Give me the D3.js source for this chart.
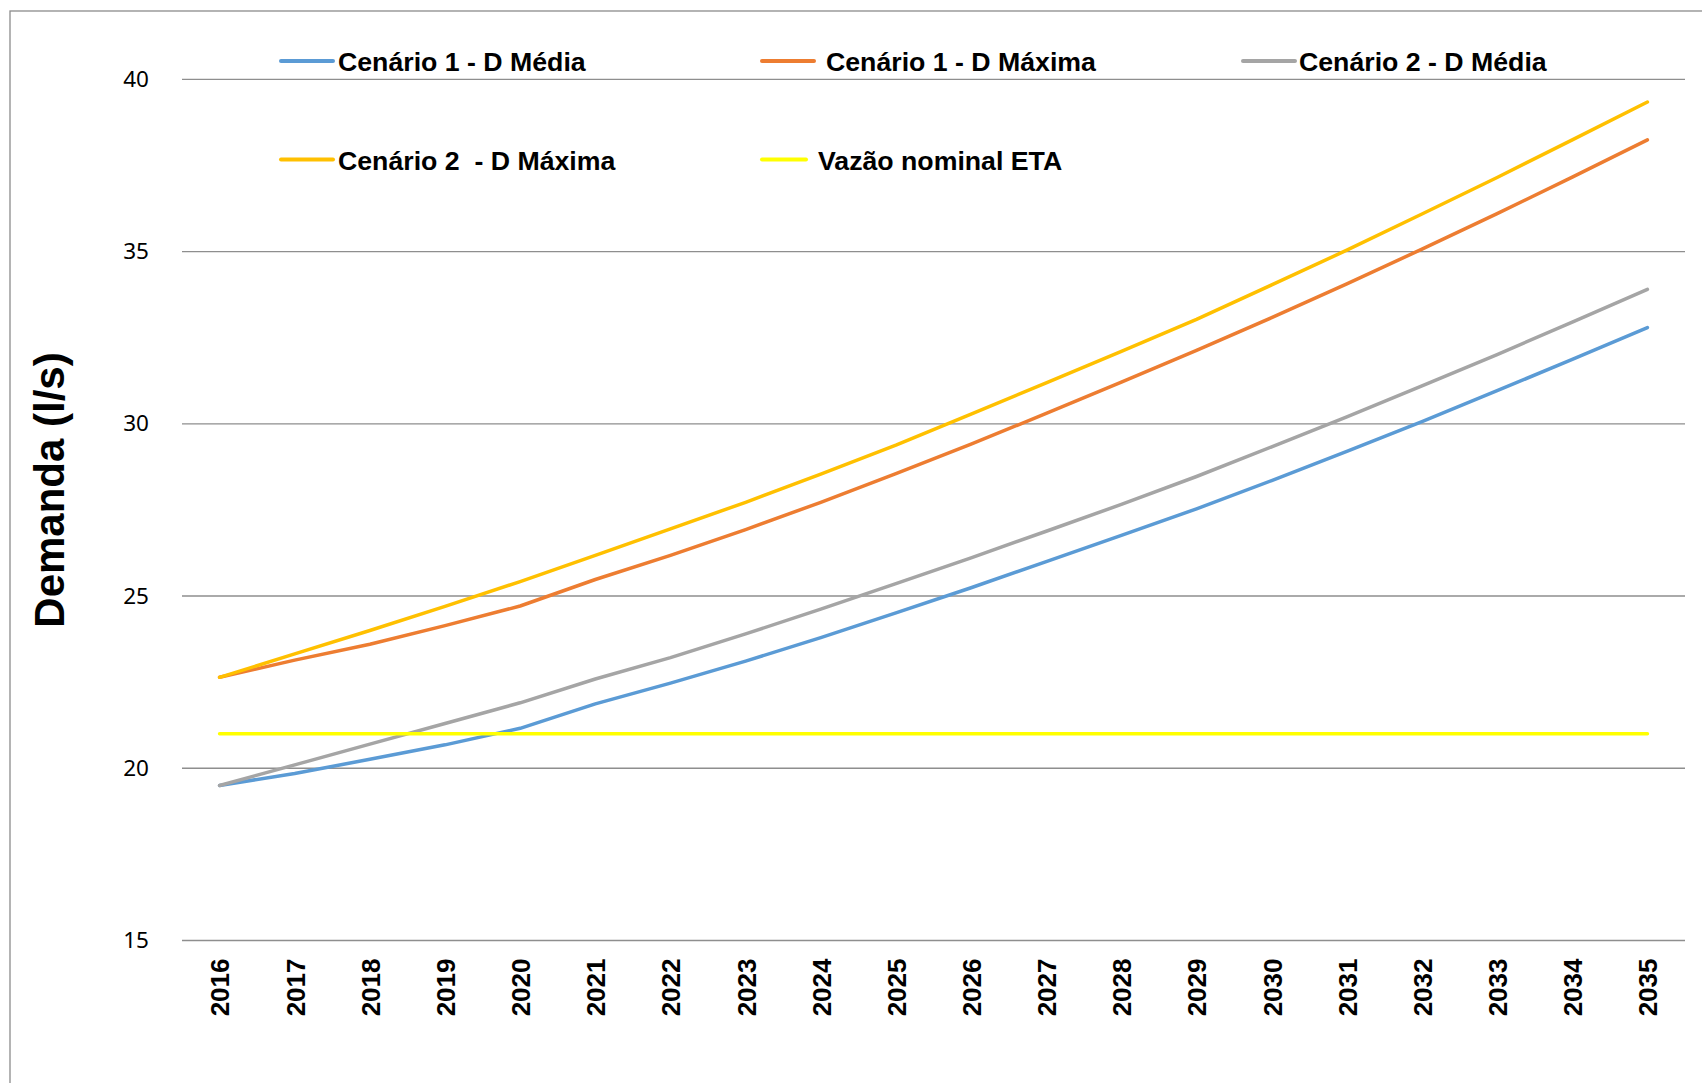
<!DOCTYPE html>
<html>
<head>
<meta charset="utf-8">
<script src="https://cdn.jsdelivr.net/npm/d3@7/dist/d3.min.js"></script>
<style>
  html, body { margin: 0; padding: 0; background: #fff; }
  svg { display: block; }
</style>
</head>
<body>
<svg id="chart" width="1702" height="1083"></svg>
<script>
// Anos do horizonte de projeto
const years = ["2016","2017","2018","2019","2020","2021","2022","2023","2024","2025",
               "2026","2027","2028","2029","2030","2031","2032","2033","2034","2035"];

// Demandas projetadas (l/s)
const c1Media  = [19.5, 19.85, 20.26, 20.68, 21.16, 21.87, 22.47, 23.11, 23.79, 24.51,
                  25.24, 26.0, 26.76, 27.53, 28.35, 29.2, 30.06, 30.96, 31.87, 32.79];
const c1Maxima = [22.64, 23.14, 23.6, 24.14, 24.71, 25.48, 26.18, 26.93, 27.72, 28.55,
                  29.41, 30.3, 31.21, 32.13, 33.08, 34.06, 35.07, 36.1, 37.16, 38.24];
const c2Media  = [19.5, 20.1, 20.7, 21.3, 21.9, 22.59, 23.21, 23.9, 24.62, 25.36,
                  26.11, 26.88, 27.66, 28.47, 29.33, 30.2, 31.1, 32.01, 32.95, 33.9];
const c2Maxima = [22.64, 23.32, 24.0, 24.7, 25.42, 26.18, 26.95, 27.72, 28.54, 29.38,
                  30.28, 31.19, 32.1, 33.03, 34.03, 35.04, 36.09, 37.15, 38.24, 39.34];
const vazaoETA = [21, 21, 21, 21, 21, 21, 21, 21, 21, 21,
                  21, 21, 21, 21, 21, 21, 21, 21, 21, 21];

const seriesNames = ["Cenário 1 - D Média", "Cenário 1 - D Máxima", "Cenário 2 - D Média",
                     "Cenário 2  - D Máxima", "Vazão nominal ETA"];
const yTicks = [15, 20, 25, 30, 35, 40];

const series = [
  { name: seriesNames[0], values: c1Media,  color: "#5B9BD5" },
  { name: seriesNames[1], values: c1Maxima, color: "#ED7D31" },
  { name: seriesNames[2], values: c2Media,  color: "#A5A5A5" },
  { name: seriesNames[3], values: c2Maxima, color: "#FFC000" },
  { name: seriesNames[4], values: vazaoETA, color: "#FFFF00" }
];

const svg = d3.select("#chart");

// Moldura do gráfico
svg.append("rect")
  .attr("x", 10).attr("y", 11)
  .attr("width", 1702).attr("height", 1083)
  .attr("fill", "none")
  .attr("stroke", "#8c8c8c")
  .attr("stroke-width", 1.3);

const plot = { left: 182, right: 1685, top: 79.3, bottom: 940.5 };

const x = d3.scalePoint().domain(years).range([plot.left, plot.right]).padding(0.5);
const y = d3.scaleLinear().domain([15, 40]).range([plot.bottom, plot.top]);

// Linhas de grade horizontais
svg.append("g")
  .selectAll("line")
  .data(yTicks)
  .join("line")
  .attr("x1", plot.left).attr("x2", plot.right)
  .attr("y1", d => y(d)).attr("y2", d => y(d))
  .attr("stroke", "#8e8e8e")
  .attr("stroke-width", 1.3);

// Eixo Y
const yAxis = svg.append("g")
  .attr("transform", `translate(${plot.left},0)`)
  .call(d3.axisLeft(y).tickValues(yTicks).tickSize(0).tickPadding(33));
yAxis.select(".domain").remove();
yAxis.selectAll("text")
  .attr("font-family", "'Noto Sans', sans-serif")
  .attr("font-size", 22.5)
  .attr("fill", "#000");

// Eixo X com rótulos verticais
const xAxis = svg.append("g")
  .attr("transform", `translate(0,${plot.bottom})`)
  .call(d3.axisBottom(x).tickSize(0));
xAxis.select(".domain").remove();
xAxis.selectAll("text")
  .attr("font-family", "'Liberation Sans', Arial, sans-serif")
  .attr("font-weight", "bold")
  .attr("font-size", 26)
  .attr("fill", "#000")
  .attr("text-anchor", "end")
  .attr("transform", "rotate(-90)")
  .attr("x", -18)
  .attr("y", 0)
  .attr("dy", "0.36em");

// Título do eixo Y
svg.append("text")
  .attr("transform", "translate(64,490) rotate(-90)")
  .attr("text-anchor", "middle")
  .attr("font-family", "'Liberation Sans', Arial, sans-serif")
  .attr("font-weight", "bold")
  .attr("font-size", 42)
  .attr("fill", "#000")
  .text("Demanda (l/s)");

// Séries
const line = d3.line()
  .x((d, i) => x(years[i]))
  .y(d => y(d));

svg.append("g")
  .selectAll("path")
  .data(series)
  .join("path")
  .attr("d", d => line(d.values))
  .attr("fill", "none")
  .attr("stroke", d => d.color)
  .attr("stroke-width", 3.5)
  .attr("stroke-linejoin", "round")
  .attr("stroke-linecap", "round");

// Legenda
const legendItems = [
  { s: series[0], x1: 281, x2: 333, tx: 338, y: 61 },
  { s: series[1], x1: 762, x2: 814, tx: 826, y: 61 },
  { s: series[2], x1: 1243, x2: 1295, tx: 1299, y: 61 },
  { s: series[3], x1: 281, x2: 333, tx: 338, y: 159.5 },
  { s: series[4], x1: 762, x2: 806, tx: 818, y: 159.5 }
];

const lg = svg.append("g")
  .selectAll("g")
  .data(legendItems)
  .join("g");

lg.append("line")
  .attr("x1", d => d.x1).attr("x2", d => d.x2)
  .attr("y1", d => d.y).attr("y2", d => d.y)
  .attr("stroke", d => d.s.color)
  .attr("stroke-width", 4)
  .attr("stroke-linecap", "round");

lg.append("text")
  .attr("x", d => d.tx)
  .attr("y", d => d.y + 10)
  .attr("font-family", "'Liberation Sans', Arial, sans-serif")
  .attr("font-weight", "bold")
  .attr("font-size", 26.7)
  .attr("fill", "#000")
  .attr("xml:space", "preserve")
  .style("white-space", "pre")
  .text(d => d.s.name);
</script>
</body>
</html>
